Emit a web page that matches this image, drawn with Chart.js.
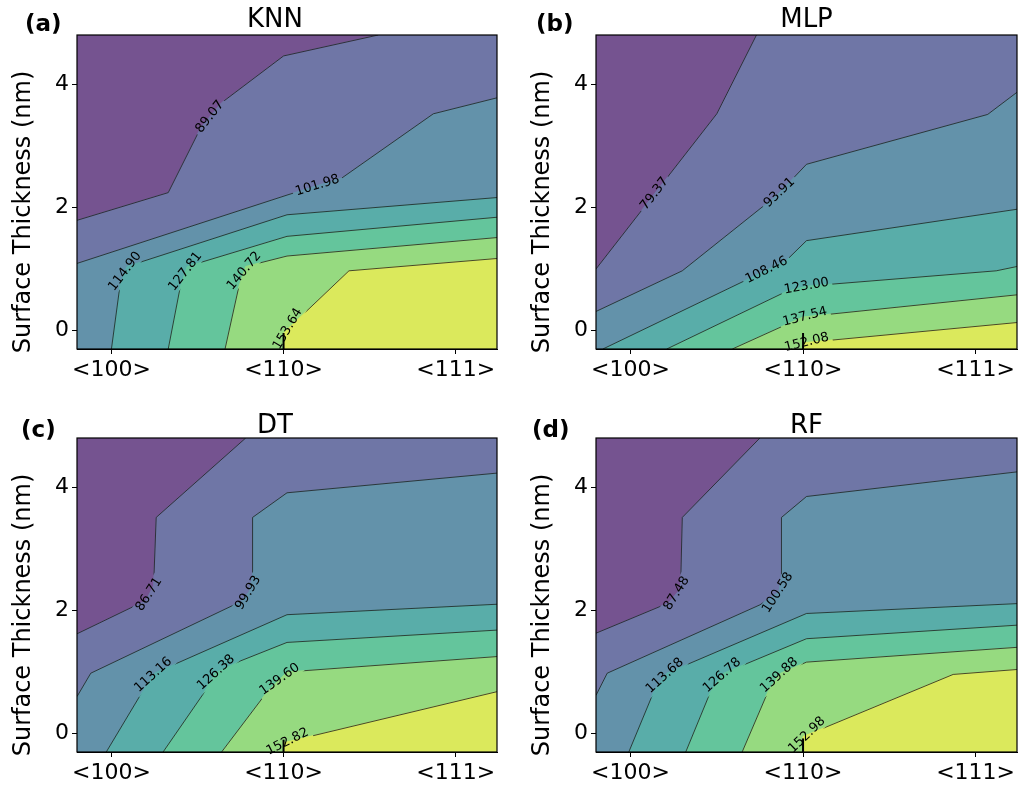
<!DOCTYPE html>
<html>
<head>
<meta charset="utf-8">
<script src="https://cdn.jsdelivr.net/npm/chart.js@4.4.0/dist/chart.umd.min.js"></script>
<style>
body { margin: 0; background: #fff; }
#wrap { position: relative; width: 1019px; height: 787px; overflow: hidden; }
#wrap canvas { position: absolute; }
</style>
</head>
<body>
<div id="wrap">
  <canvas id="knn" width="509" height="395" style="left:0;top:0"></canvas>
  <canvas id="mlp" width="500" height="395" style="left:519px;top:0"></canvas>
  <canvas id="dt" width="509" height="387" style="left:0;top:400px"></canvas>
  <canvas id="rf" width="500" height="387" style="left:519px;top:400px"></canvas>
</div>
<script>
// axes
const orientations = ['<100>', '<110>', '<111>'];
const orientationPos = [0, 1, 2];
const thicknessTicks = [0, 2, 4];
const xRange = [-0.2, 2.24];
const yRange = [-0.3, 4.8];

// KNN
const knnLevels = [89.07, 101.98, 114.90, 127.81, 140.72, 153.64];
const knnLines = [
    [[-0.2, 1.79], [0.33, 2.24], [0.52, 3.3], [0.64, 3.7], [1.0, 4.46], [1.55, 4.8]],
    [[-0.2, 1.09], [1.02, 2.2], [1.34, 2.48], [1.87, 3.52], [2.24, 3.78]],
    [[0.0, -0.3], [0.05, 0.74], [0.09, 1.04], [1.02, 1.88], [2.24, 2.16]],
    [[0.33, -0.3], [0.40, 0.71], [0.44, 1.04], [1.02, 1.53], [2.24, 1.84]],
    [[0.66, -0.3], [0.74, 0.71], [0.78, 1.04], [1.02, 1.21], [2.24, 1.51]],
    [[1.0, -0.3], [1.0, -0.04], [1.38, 0.97], [2.24, 1.17]]
];
const knnLabelAt = [[0.56, 3.5], [1.2, 2.33], [0.08, 0.96], [0.43, 0.96], [0.78, 0.96], [1.02, 0.04]];
const knnTick = [[1.0, -0.3], [1.0, -0.04]];

// MLP
const mlpLevels = [79.37, 93.91, 108.46, 123.00, 137.54, 152.08];
const mlpLines = [
    [[-0.2, 1.0], [0.5, 3.52], [0.73, 4.8]],
    [[-0.2, 0.31], [0.3, 0.97], [0.85, 2.2], [1.02, 2.7], [2.07, 3.51], [2.24, 3.87]],
    [[-0.16, -0.3], [0.9, 1.13], [1.02, 1.46], [2.24, 1.97]],
    [[0.21, -0.3], [0.9, 0.63], [1.02, 0.72], [2.12, 0.97], [2.24, 1.04]],
    [[0.59, -0.3], [1.0, 0.22], [2.24, 0.58]],
    [[1.0, -0.3], [1.0, -0.2], [2.24, 0.13]]
];
const mlpLabelAt = [[0.15, 2.2], [0.86, 2.25], [0.79, 0.97], [1.02, 0.72], [1.01, 0.25], [1.02, -0.15]];
const mlpTick = [[1.0, -0.3], [1.0, -0.04]];

// DT
const dtLevels = [86.71, 99.93, 113.16, 126.38, 139.60, 152.82];
const dtLines = [
    [[-0.2, 1.62], [0.2, 2.16], [0.245, 2.4], [0.26, 3.51], [0.78, 4.8]],
    [[-0.2, 0.6], [-0.12, 0.98], [0.75, 2.14], [0.8, 2.3], [0.82, 2.57], [0.82, 3.51], [1.02, 3.91], [2.24, 4.23]],
    [[-0.03, -0.3], [0.18, 0.68], [0.25, 0.98], [1.02, 1.93], [2.24, 2.1]],
    [[0.3, -0.3], [0.535, 0.65], [0.6, 0.98], [0.75, 1.18], [1.02, 1.48], [2.24, 1.68]],
    [[0.64, -0.3], [0.9, 0.66], [1.02, 1.0], [2.24, 1.25]],
    [[1.0, -0.3], [1.0, -0.15], [2.24, 0.68]]
];
const dtLabelAt = [[0.226, 2.25], [0.81, 2.25], [0.245, 0.95], [0.61, 0.98], [0.97, 0.9], [1.02, -0.1]];
const dtTick = [[1.0, -0.3], [1.0, -0.1]];

// RF
const rfLevels = [87.48, 100.58, 113.68, 126.78, 139.88, 152.98];
const rfLines = [
    [[-0.2, 1.63], [0.22, 2.12], [0.29, 2.35], [0.3, 3.51], [0.75, 4.8]],
    [[-0.2, 0.62], [-0.135, 0.98], [0.75, 2.09], [0.86, 2.3], [0.875, 2.57], [0.875, 3.51], [1.02, 3.85], [2.24, 4.25]],
    [[-0.01, -0.3], [0.135, 0.68], [0.21, 0.98], [1.02, 1.95], [2.24, 2.11]],
    [[0.32, -0.3], [0.464, 0.68], [0.54, 0.98], [1.02, 1.54], [2.24, 1.76]],
    [[0.647, -0.3], [0.8, 0.7], [0.87, 0.98], [1.02, 1.16], [2.24, 1.4]],
    [[1.0, -0.3], [1.0, -0.05], [1.87, 0.96], [2.24, 1.04]]
];
const rfLabelAt = [[0.29, 2.22], [0.87, 2.22], [0.193, 0.95], [0.53, 0.95], [0.86, 0.95], [1.02, 0.0]];
const rfTick = [[1.0, -0.3], [1.0, -0.08]];

// viridis, alpha 0.75 on white
const fillColors = ['#755390', '#6f76a6', '#6392aa', '#59ada9', '#64c59c', '#96da80', '#dbe95c'];
const FONT = '"DejaVu Sans", "Liberation Sans", sans-serif';

function perimT(p) {
    var w = xRange[1] - xRange[0], h = yRange[1] - yRange[0], e = 1e-6;
    if (Math.abs(p[1] - yRange[1]) < e) return (p[0] - xRange[0]) / w;
    if (Math.abs(p[0] - xRange[1]) < e) return 1 + (yRange[1] - p[1]) / h;
    if (Math.abs(p[1] - yRange[0]) < e) return 2 + (xRange[1] - p[0]) / w;
    return 3 + (p[1] - yRange[0]) / h;
}

// polygon of the side of a contour that holds the bottom-right corner
function highSide(line) {
    var corners = [[xRange[0], yRange[1]], [xRange[1], yRange[1]], [xRange[1], yRange[0]], [xRange[0], yRange[0]]];
    var ts = perimT(line[0]), te = perimT(line[line.length - 1]);
    var fwd = function(t) { return (t - te + 4) % 4; };
    var bwd = function(t) { return (te - t + 4) % 4; };
    var dist = fwd(2) < fwd(ts) ? fwd : bwd;
    var span = dist(ts);
    var out = line.slice();
    [0, 1, 2, 3].map(function(k) { return {k: k, d: dist(k)}; })
        .filter(function(o) { return o.d > 0 && o.d < span; })
        .sort(function(a, b) { return a.d - b.d; })
        .forEach(function(o) { out.push(corners[o.k]); });
    return out;
}

function toXY(pts) { return pts.map(function(p) { return {x: p[0], y: p[1]}; }); }

function pointAt(path, cum, s) {
    for (var i = 1; i < path.length; i++) {
        if (s <= cum[i] || i == path.length - 1) {
            var seg = cum[i] - cum[i - 1] || 1;
            var t = Math.max(0, Math.min(1, (s - cum[i - 1]) / seg));
            return [path[i - 1][0] + t * (path[i][0] - path[i - 1][0]), path[i - 1][1] + t * (path[i][1] - path[i - 1][1])];
        }
    }
    return path[path.length - 1];
}

function placeLabel(path, at, half) {
    var cum = [0], best = null;
    for (var i = 1; i < path.length; i++) {
        cum.push(cum[i - 1] + Math.hypot(path[i][0] - path[i - 1][0], path[i][1] - path[i - 1][1]));
    }
    for (var i = 1; i < path.length; i++) {
        var a = path[i - 1], b = path[i];
        var dx = b[0] - a[0], dy = b[1] - a[1];
        var len2 = dx * dx + dy * dy || 1;
        var t = Math.max(0, Math.min(1, ((at[0] - a[0]) * dx + (at[1] - a[1]) * dy) / len2));
        var px = a[0] + t * dx, py = a[1] + t * dy;
        var d = Math.hypot(at[0] - px, at[1] - py);
        if (!best || d < best.d) best = {d: d, x: px, y: py, s: cum[i - 1] + t * Math.sqrt(len2)};
    }
    var total = cum[cum.length - 1];
    var s0 = best.s - half, s1 = best.s + half;
    if (s0 < 0) { s1 -= s0; s0 = 0; }
    if (s1 > total) { s0 = Math.max(0, s0 - (s1 - total)); s1 = total; }
    var p0 = pointAt(path, cum, s0), p1 = pointAt(path, cum, s1);
    var ang = Math.atan2(p1[1] - p0[1], p1[0] - p0[0]);
    if (ang > Math.PI / 2) ang -= Math.PI;
    if (ang < -Math.PI / 2) ang += Math.PI;
    return {x: best.x, y: best.y, ang: ang};
}

const contourDecor = {
    id: 'contourDecor',
    beforeDatasetsDraw: function(chart) {
        var p = chart.options.plugins.contourDecor;
        var ctx = chart.ctx, xs = chart.scales.x, ys = chart.scales.y;
        ctx.save();
        ctx.font = '13px ' + FONT;
        chart.$labels = p.levels.map(function(level, i) {
            var path = p.lines[i].map(function(pt) { return [xs.getPixelForValue(pt[0]), ys.getPixelForValue(pt[1])]; });
            var at = [xs.getPixelForValue(p.labelAt[i][0]), ys.getPixelForValue(p.labelAt[i][1])];
            var text = level.toFixed(2);
            var w = ctx.measureText(text).width;
            var pl = placeLabel(path, at, w / 2);
            pl.text = text;
            pl.w = w;
            return pl;
        });
        ctx.restore();
    },
    beforeDatasetDraw: function(chart, args) {
        var ds = chart.data.datasets[args.index];
        if (!ds.contourLine) return;
        var ctx = chart.ctx;
        ctx.save();
        ctx.beginPath();
        ctx.rect(0, 0, chart.width, chart.height);
        chart.$labels.forEach(function(l) {
            var c = Math.cos(l.ang), s = Math.sin(l.ang);
            var hw = l.w / 2 + 3, hh = 7;
            var pts = [[-hw, -hh], [hw, -hh], [hw, hh], [-hw, hh]].map(function(q) {
                return [l.x + q[0] * c - q[1] * s, l.y + q[0] * s + q[1] * c];
            });
            ctx.moveTo(pts[0][0], pts[0][1]);
            for (var k = 1; k < 4; k++) ctx.lineTo(pts[k][0], pts[k][1]);
            ctx.closePath();
        });
        ctx.clip('evenodd');
    },
    afterDatasetDraw: function(chart, args) {
        if (chart.data.datasets[args.index].contourLine) chart.ctx.restore();
    },
    afterDraw: function(chart) {
        var p = chart.options.plugins.contourDecor;
        var ctx = chart.ctx, area = chart.chartArea;
        ctx.save();
        // contour labels
        ctx.fillStyle = '#000';
        ctx.font = '13px ' + FONT;
        ctx.textAlign = 'center';
        ctx.textBaseline = 'middle';
        chart.$labels.forEach(function(l) {
            ctx.save();
            ctx.translate(l.x, l.y);
            ctx.rotate(l.ang);
            ctx.fillText(l.text, 0, 0);
            ctx.restore();
        });
        // frame
        ctx.strokeStyle = '#000';
        ctx.lineWidth = 1.2;
        ctx.strokeRect(area.left, area.top, area.right - area.left, area.bottom - area.top);
        // title and panel letter
        ctx.textBaseline = 'alphabetic';
        ctx.font = '26px ' + FONT;
        ctx.fillText(p.title, (area.left + area.right) / 2 + p.titleDx, p.titleY);
        ctx.textAlign = 'left';
        ctx.font = 'bold 23px ' + FONT;
        ctx.fillText(p.letter, p.letterX, p.letterY);
        // y axis title
        ctx.translate(p.yTitleX, (area.top + area.bottom) / 2 + 20);
        ctx.rotate(-Math.PI / 2);
        ctx.textAlign = 'center';
        ctx.textBaseline = 'middle';
        ctx.font = '24px ' + FONT;
        ctx.fillText('Surface Thickness (nm)', 0, 0);
        ctx.restore();
    }
};

function makePanel(canvasId, cfg) {
    var datasets = [];
    var frame = [[xRange[0], yRange[0]], [xRange[0], yRange[1]], [xRange[1], yRange[1]], [xRange[1], yRange[0]]];
    datasets.push({data: toXY(frame), fill: 'shape', backgroundColor: fillColors[0], borderColor: fillColors[0], borderWidth: 1, order: 20});
    cfg.lines.forEach(function(line, i) {
        datasets.push({
            data: toXY(highSide(line)), fill: 'shape',
            backgroundColor: fillColors[i + 1], borderColor: fillColors[i + 1], borderWidth: 1,
            order: 19 - i
        });
    });
    cfg.lines.forEach(function(line) {
        datasets.push({data: toXY(line), fill: false, borderColor: '#1e1e1e', borderWidth: 0.8, order: 2, contourLine: true});
    });
    datasets.push({data: toXY(cfg.tick), fill: false, borderColor: '#000', borderWidth: 2, order: 1});

    var tickFont = {family: FONT, size: 22};
    new Chart(document.getElementById(canvasId), {
        type: 'scatter',
        data: {datasets: datasets},
        options: {
            responsive: false,
            animation: false,
            devicePixelRatio: 1,
            showLine: true,
            elements: {point: {radius: 0}, line: {tension: 0}},
            layout: {padding: {left: 0, top: cfg.padTop, right: cfg.padRight, bottom: 0}},
            scales: {
                x: {
                    type: 'linear', min: xRange[0], max: xRange[1],
                    afterBuildTicks: function(s) { s.ticks = orientationPos.map(function(v) { return {value: v}; }); },
                    afterFit: function(s) { s.height = cfg.xAxisH; },
                    ticks: {
                        callback: function(v) { return orientations[orientationPos.indexOf(v)]; },
                        font: tickFont, color: '#000', maxRotation: 0, autoSkip: false, padding: 3
                    },
                    grid: {drawOnChartArea: false, drawTicks: true, tickLength: 5, color: '#000', lineWidth: 1},
                    border: {display: true, color: '#000', width: 1}
                },
                y: {
                    type: 'linear', min: yRange[0], max: yRange[1],
                    afterBuildTicks: function(s) { s.ticks = thicknessTicks.map(function(v) { return {value: v}; }); },
                    afterFit: function(s) { s.width = 77; },
                    ticks: {font: tickFont, color: '#000', padding: 3},
                    grid: {drawOnChartArea: false, drawTicks: true, tickLength: 5, color: '#000', lineWidth: 1},
                    border: {display: true, color: '#000', width: 1}
                }
            },
            plugins: {
                legend: {display: false},
                tooltip: {enabled: false},
                contourDecor: {
                    levels: cfg.levels, lines: cfg.lines, labelAt: cfg.labelAt,
                    title: cfg.title, titleDx: cfg.titleDx, titleY: cfg.titleY,
                    letter: cfg.letter, letterX: cfg.letterX, letterY: cfg.letterY,
                    yTitleX: 24
                }
            }
        },
        plugins: [contourDecor]
    });
}

makePanel('knn', {levels: knnLevels, lines: knnLines, labelAt: knnLabelAt, tick: knnTick,
    title: 'KNN', letter: '(a)', padTop: 35, padRight: 12, xAxisH: 46, titleDx: -12, titleY: 27, letterX: 25, letterY: 31});
makePanel('mlp', {levels: mlpLevels, lines: mlpLines, labelAt: mlpLabelAt, tick: mlpTick,
    title: 'MLP', letter: '(b)', padTop: 35, padRight: 2, xAxisH: 46, titleDx: 0, titleY: 27, letterX: 17, letterY: 31});
makePanel('dt', {levels: dtLevels, lines: dtLines, labelAt: dtLabelAt, tick: dtTick,
    title: 'DT', letter: '(c)', padTop: 38, padRight: 12, xAxisH: 35, titleDx: -12, titleY: 33, letterX: 21, letterY: 37});
makePanel('rf', {levels: rfLevels, lines: rfLines, labelAt: rfLabelAt, tick: rfTick,
    title: 'RF', letter: '(d)', padTop: 38, padRight: 2, xAxisH: 35, titleDx: 0, titleY: 33, letterX: 13, letterY: 37});
</script>
</body>
</html>
